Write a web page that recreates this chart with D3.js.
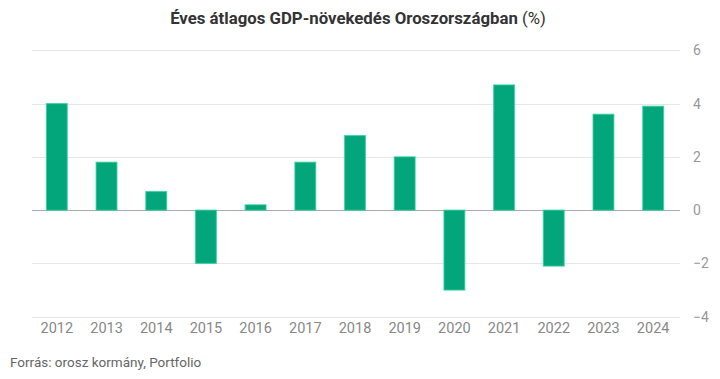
<!DOCTYPE html>
<html><head><meta charset="utf-8">
<script src="https://cdn.jsdelivr.net/npm/d3@7"></script>
<style>body{margin:0;background:#fff;font-family:Roboto,sans-serif}</style>
</head><body><svg id="c" width="720" height="379"></svg>
<script>
const years = ["2012","2013","2014","2015","2016","2017","2018","2019","2020","2021","2022","2023","2024"];
const growth = [4.0,1.8,0.7,-2.0,0.2,1.8,2.8,2.0,-3.0,4.7,-2.1,3.6,3.9];
const yTicks = [-4,-2,0,2,4,6];
const title = "Éves átlagos GDP-növekedés Oroszországban";
const source = "Forrás: orosz kormány, Portfolio";

const svg = d3.select("#c");
const x = d3.scaleBand().domain(years).range([32,678]).paddingInner(0.56).paddingOuter(0.28);
const y = d3.scaleLinear().domain([-4,6]).range([316.7,50.3]);

svg.append("text").attr("x",358).attr("y",24).attr("text-anchor","middle")
  .attr("font-size",16.8).attr("fill","#333")
  .call(t=>{t.append("tspan").attr("font-weight","bold").text(title+" ");
            t.append("tspan").text("(%)");});

svg.append("g").selectAll("line").data(yTicks).join("line")
  .attr("x1",32).attr("x2",680).attr("y1",d=>Math.round(y(d))+0.5).attr("y2",d=>Math.round(y(d))+0.5)
  .attr("stroke",d=>d===0?"#aaa":"#e6e6e6").attr("stroke-width",1);

const ya = svg.append("g").attr("transform","translate(680,0)")
  .call(d3.axisRight(y).tickValues(yTicks).tickSize(0).tickPadding(13));
ya.select(".domain").remove();
ya.selectAll("text").attr("font-family","Roboto").attr("font-size",14).attr("fill","#999");

svg.append("g").selectAll("rect").data(growth).join("rect")
  .attr("x",(d,i)=>x(years[i])+0.5).attr("width",x.bandwidth()-1)
  .attr("y",d=>y(Math.max(0,d))).attr("height",d=>Math.abs(y(d)-y(0)))
  .attr("fill","#03a57b").attr("stroke","#2fd09c").attr("stroke-opacity",0.7).attr("stroke-width",1.2);

const xa = svg.append("g").attr("transform","translate(0,318)")
  .call(d3.axisBottom(x).tickSize(0).tickPadding(5));
xa.select(".domain").remove();
xa.selectAll("text").attr("font-family","Roboto").attr("font-size",14.5).attr("fill","#888");

svg.append("text").attr("x",10).attr("y",367).attr("font-size",13.5).attr("fill","#666").text(source);
</script></body></html>
